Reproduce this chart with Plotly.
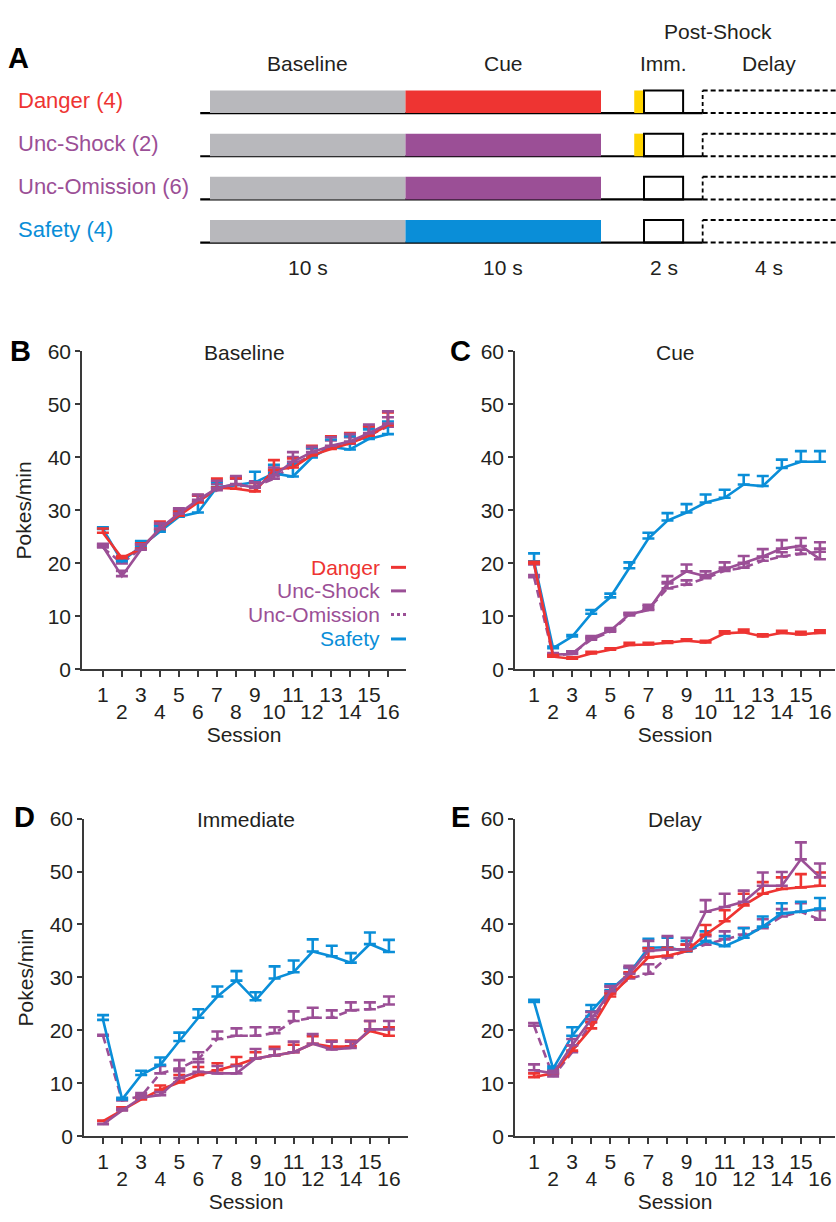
import plotly.graph_objects as go

W, H = 836, 1222
FONT = "Liberation Sans, Arial, Helvetica, sans-serif"
TXT = "#231F20"
AX = "#3A3A3A"
RED = "#EE3432"
PURPLE = "#9B4F96"
BLUE = "#0A8ED8"
GRAY = "#B8B8BC"
YELLOW = "#FFD400"

# ---------------- data ----------------
sessions = list(range(1, 17))
session_labels = [str(s) for s in sessions]
yticks = [0, 10, 20, 30, 40, 50, 60]

# Baseline (B)
danger_b = [25.8, 21.0, 22.8, 26.5, 29.0, 31.5, 34.3, 34.1, 33.6, 37.7, 38.1, 40.4, 41.6, 42.7, 44.1, 46.1]
danger_b_err = [0.8, 0.4, 1.0, 1.4, 0.8, 1.4, 1.7, 2.0, 1.6, 1.8, 1.7, 1.8, 2.4, 1.9, 1.8, 2.4]
shock_b = [23.2, 17.6, 22.6, 26.6, 29.4, 32.0, 34.2, 35.0, 34.3, 36.6, 39.2, 41.0, 42.2, 43.0, 44.6, 46.4]
shock_b_err = [0.5, 1.0, 1.0, 1.0, 1.0, 1.0, 1.4, 1.5, 1.0, 1.5, 1.8, 1.0, 1.6, 1.4, 1.6, 2.3]
omis_b = [23.0, 20.0, 22.8, 26.3, 29.3, 31.8, 33.8, 34.8, 34.5, 36.0, 38.6, 40.5, 42.0, 42.6, 44.2, 45.8]
omis_b_err = [0.5, 0.5, 0.8, 1.0, 0.8, 1.0, 1.2, 1.2, 1.0, 1.5, 1.5, 1.2, 1.2, 1.2, 1.5, 1.8]
safety_b = [26.5, 20.4, 23.2, 26.0, 28.8, 29.6, 34.4, 34.8, 35.3, 37.0, 36.4, 40.0, 42.0, 41.5, 43.5, 44.4]
safety_b_err = [0.3, 0.6, 1.0, 1.0, 1.0, 2.0, 1.0, 1.5, 2.0, 1.6, 2.3, 1.8, 1.4, 2.5, 1.8, 2.4]

# Cue (C)
danger_c = [20.0, 2.4, 2.0, 3.0, 3.7, 4.6, 4.7, 5.0, 5.4, 5.1, 6.8, 7.0, 6.2, 6.9, 6.6, 6.9]
danger_c_err = [0.3, 0.3, 0.3, 0.3, 0.3, 0.4, 0.3, 0.3, 0.3, 0.3, 0.4, 0.5, 0.4, 0.4, 0.5, 0.5]
shock_c = [19.8, 2.8, 2.9, 5.9, 7.3, 10.4, 11.2, 16.2, 18.5, 17.6, 18.9, 20.1, 21.3, 22.8, 23.3, 20.8]
shock_c_err = [0.3, 0.3, 0.5, 0.4, 0.5, 0.3, 1.0, 1.4, 1.3, 0.9, 1.3, 1.3, 1.4, 1.6, 1.5, 3.2]
omis_c = [17.4, 2.5, 3.0, 5.6, 7.1, 10.2, 11.4, 15.3, 16.0, 17.2, 18.6, 19.2, 20.5, 21.3, 21.8, 22.2]
omis_c_err = [0.4, 0.3, 0.4, 0.4, 0.4, 0.4, 0.5, 1.2, 0.8, 0.6, 0.6, 0.8, 0.7, 0.8, 0.8, 0.6]
safety_c = [20.4, 4.0, 6.2, 10.5, 13.6, 19.1, 24.7, 28.1, 29.6, 31.5, 32.4, 34.9, 34.6, 38.0, 39.2, 39.2]
safety_c_err = [1.5, 0.3, 0.3, 0.7, 0.7, 1.1, 1.1, 1.4, 1.6, 1.5, 1.5, 1.8, 1.9, 1.6, 2.0, 2.0]

# Immediate (D)
danger_d = [2.9, 5.0, 7.0, 8.8, 10.2, 11.6, 12.5, 13.5, 14.7, 15.3, 15.9, 17.5, 16.9, 17.0, 19.9, 19.0]
danger_d_err = [0.1, 0.5, 0.5, 0.8, 1.4, 1.5, 1.3, 1.5, 1.2, 1.6, 1.4, 1.4, 1.2, 1.1, 1.9, 1.6]
shock_d = [2.3, 4.9, 7.3, 7.8, 11.0, 12.2, 11.9, 11.9, 14.7, 15.3, 15.9, 17.5, 16.4, 16.7, 20.2, 20.2]
shock_d_err = [0.1, 0.3, 0.5, 0.6, 1.3, 1.8, 1.4, 1.4, 1.8, 1.2, 2.0, 1.8, 1.5, 1.2, 1.6, 1.6]
omis_d = [19.0, 6.8, 7.6, 11.9, 12.8, 14.6, 18.4, 19.0, 19.0, 19.5, 21.8, 22.4, 22.4, 23.8, 24.0, 24.9]
omis_d_err = [0.2, 0.3, 0.6, 1.4, 1.6, 1.3, 1.4, 1.4, 1.6, 1.1, 1.8, 1.9, 1.4, 1.5, 1.3, 1.5]
safety_d = [22.0, 7.0, 11.6, 13.5, 18.0, 22.4, 26.4, 29.4, 25.7, 29.8, 31.0, 34.9, 34.0, 32.8, 36.3, 34.8]
safety_d_err = [0.9, 0.3, 0.8, 1.4, 1.6, 1.6, 1.9, 1.8, 1.5, 2.3, 2.2, 2.3, 2.0, 1.8, 2.2, 2.3]

# Delay (E)
danger_e = [11.2, 11.9, 16.2, 20.4, 26.4, 30.1, 33.8, 34.1, 35.0, 38.1, 40.6, 43.6, 45.8, 46.7, 47.0, 47.3]
danger_e_err = [0.7, 0.4, 1.0, 1.2, 0.6, 0.9, 1.7, 1.5, 1.2, 1.8, 2.1, 2.2, 2.2, 2.2, 2.5, 2.5]
shock_e = [12.5, 11.9, 17.2, 22.1, 27.4, 30.7, 35.0, 35.3, 35.3, 42.4, 43.3, 44.3, 47.3, 47.3, 52.3, 48.9]
shock_e_err = [1.1, 0.5, 1.2, 1.4, 1.0, 1.2, 1.9, 2.5, 2.2, 2.2, 2.5, 2.1, 2.5, 2.6, 3.2, 2.6]
omis_e = [20.9, 11.3, 15.9, 21.5, 27.0, 29.8, 30.7, 33.8, 35.0, 36.2, 37.2, 38.1, 39.3, 41.5, 42.4, 40.9]
omis_e_err = [0.5, 0.5, 1.3, 1.2, 1.2, 2.4, 1.8, 1.5, 1.2, 1.6, 1.5, 1.3, 1.7, 1.4, 1.6, 1.8]
safety_e = [25.4, 12.8, 19.0, 23.6, 27.6, 30.8, 35.6, 35.7, 34.9, 36.9, 35.9, 37.5, 39.6, 42.1, 42.4, 43.0]
safety_e_err = [0.4, 0.4, 1.6, 1.2, 1.1, 1.0, 1.7, 1.8, 2.0, 1.8, 1.9, 1.8, 1.9, 1.9, 1.9, 2.0]

# Panel A schematic
group_names = ["Danger (4)", "Unc-Shock (2)", "Unc-Omission (6)", "Safety (4)"]
group_colors = [RED, PURPLE, PURPLE, BLUE]
group_shock = [True, True, False, False]
phase_names = ["Baseline", "Cue", "Imm.", "Delay"]
phase_durations = ["10 s", "10 s", "2 s", "4 s"]


def fx(px):
    return px / W


def fy(py):
    return 1 - py / H


fig = go.Figure()
shapes = []
annotations = []

# ---------------- Panel A ----------------
X0, PPS = 210, 19.55  # px of t=0, px per second


def sx(t):
    return fx(X0 + t * PPS)


row_tops = [80, 124, 168, 212]
ROW_H = 23
t_base = (0, 10)
t_cue = (10, 20)
t_shock = (21.7, 22.2)
t_imm = (22.2, 24.2)
t_delay = 25.2
for name, col, shk, top in zip(group_names, group_colors, group_shock, row_tops):
    bot = top + ROW_H
    shapes.append(dict(type="line", xref="paper", yref="paper", x0=sx(-0.5), x1=sx(t_delay),
                       y0=fy(bot), y1=fy(bot), line=dict(color="black", width=2.2)))
    shapes.append(dict(type="rect", xref="paper", yref="paper", x0=sx(t_base[0]), x1=sx(t_base[1]),
                       y0=fy(bot), y1=fy(top), fillcolor=GRAY, line=dict(width=0)))
    shapes.append(dict(type="rect", xref="paper", yref="paper", x0=sx(t_cue[0]), x1=sx(t_cue[1]),
                       y0=fy(bot), y1=fy(top), fillcolor=col, line=dict(width=0)))
    if shk:
        shapes.append(dict(type="rect", xref="paper", yref="paper", x0=sx(t_shock[0]), x1=sx(t_shock[1]),
                           y0=fy(bot), y1=fy(top), fillcolor=YELLOW, line=dict(width=0)))
    shapes.append(dict(type="rect", xref="paper", yref="paper", x0=sx(t_imm[0]), x1=sx(t_imm[1]),
                       y0=fy(bot), y1=fy(top), fillcolor="rgba(0,0,0,0)", line=dict(color="black", width=2)))
    for yy in (top, bot):
        shapes.append(dict(type="line", xref="paper", yref="paper", x0=sx(t_delay), x1=1.0,
                           y0=fy(yy), y1=fy(yy), line=dict(color="black", width=2, dash="5px,3px")))
    shapes.append(dict(type="line", xref="paper", yref="paper", x0=sx(t_delay), x1=sx(t_delay),
                       y0=fy(bot), y1=fy(top), line=dict(color="black", width=1.8, dash="4px,3px")))
    annotations.append(dict(text=name, xref="paper", yref="paper", x=fx(16), y=fy(top + 10),
                            xanchor="left", yanchor="middle", showarrow=False,
                            font=dict(family=FONT, size=22, color=col)))

phase_centers = [5, 15, 23.2, 28.6]
for nm, dur, c in zip(phase_names, phase_durations, phase_centers):
    annotations.append(dict(text=nm, xref="paper", yref="paper", x=sx(c), y=fy(52),
                            xanchor="center", yanchor="middle", showarrow=False,
                            font=dict(family=FONT, size=21, color=TXT)))
    annotations.append(dict(text=dur, xref="paper", yref="paper", x=sx(c), y=fy(260),
                            xanchor="center", yanchor="middle", showarrow=False,
                            font=dict(family=FONT, size=21, color=TXT)))
annotations.append(dict(text="Post-Shock", xref="paper", yref="paper", x=sx(26.0), y=fy(20),
                        xanchor="center", yanchor="middle", showarrow=False,
                        font=dict(family=FONT, size=21, color=TXT)))

# ---------------- Panels B-E ----------------
panels = [
    dict(letter="B", title="Baseline", xa="x", ya="y", xe="x5", xdom=(82, 406), ydom=(346, 670),
         xr=[-0.1, 16.95], ytitle="Pokes/min", letter_xy=(20, 346),
         series=[("Unc-Omission", omis_b, omis_b_err, PURPLE, "8px,5px"),
                 ("Safety", safety_b, safety_b_err, BLUE, "solid"),
                 ("Danger", danger_b, danger_b_err, RED, "solid"),
                 ("Unc-Shock", shock_b, shock_b_err, PURPLE, "solid")]),
    dict(letter="C", title="Cue", xa="x2", ya="y2", xe="x6", xdom=(515, 835), ydom=(346, 670),
         xr=[0.0, 16.79], ytitle="", letter_xy=(460, 346),
         series=[("Unc-Omission", omis_c, omis_c_err, PURPLE, "8px,5px"),
                 ("Safety", safety_c, safety_c_err, BLUE, "solid"),
                 ("Unc-Shock", shock_c, shock_c_err, PURPLE, "solid"),
                 ("Danger", danger_c, danger_c_err, RED, "solid")]),
    dict(letter="D", title="Immediate", xa="x3", ya="y3", xe="x7", xdom=(84, 408), ydom=(822, 1146),
         xr=[0.0, 17.0], ytitle="Pokes/min", letter_xy=(24, 820),
         series=[("Unc-Omission", omis_d, omis_d_err, PURPLE, "8px,5px"),
                 ("Safety", safety_d, safety_d_err, BLUE, "solid"),
                 ("Danger", danger_d, danger_d_err, RED, "solid"),
                 ("Unc-Shock", shock_d, shock_d_err, PURPLE, "solid")]),
    dict(letter="E", title="Delay", xa="x4", ya="y4", xe="x8", xdom=(515, 835), ydom=(822, 1146),
         xr=[0.0, 16.79], ytitle="", letter_xy=(460, 820),
         series=[("Unc-Omission", omis_e, omis_e_err, PURPLE, "8px,5px"),
                 ("Safety", safety_e, safety_e_err, BLUE, "solid"),
                 ("Danger", danger_e, danger_e_err, RED, "solid"),
                 ("Unc-Shock", shock_e, shock_e_err, PURPLE, "solid")]),
]

tickfont = dict(family=FONT, size=21, color=TXT)
layout_axes = {}
for p in panels:
    for name, mean, err, col, dash in p["series"]:
        fig.add_trace(go.Scatter(
            x=sessions, y=mean, mode="lines", name=name, showlegend=False,
            xaxis=p["xa"], yaxis=p["ya"], cliponaxis=False,
            line=dict(color=col, width=2.6, dash=dash),
            error_y=dict(type="data", symmetric=False, array=err, arrayminus=[0] * len(err),
                         color=col, thickness=2.6, width=6)))
    fig.add_trace(go.Scatter(x=[None], y=[None], xaxis=p["xe"], yaxis=p["ya"],
                             showlegend=False, hoverinfo="skip"))
    xk = "xaxis" + p["xa"][1:]
    yk = "yaxis" + p["ya"][1:]
    ek = "xaxis" + p["xe"][1:]
    xdom = [fx(p["xdom"][0]), fx(p["xdom"][1])]
    ydom = [fy(p["ydom"][1]), fy(p["ydom"][0])]
    layout_axes[xk] = dict(
        domain=xdom, range=p["xr"], anchor=p["ya"], tickmode="array", tickvals=sessions,
        ticktext=[l if s % 2 else "" for s, l in zip(sessions, session_labels)],
        ticks="outside", ticklen=6, tickwidth=1.5, tickcolor=AX, showline=True, linecolor=AX,
        linewidth=1.6, showgrid=False, zeroline=False, tickfont=tickfont, fixedrange=True)
    layout_axes[ek] = dict(
        overlaying=p["xa"], range=p["xr"], anchor=p["ya"], side="bottom", tickmode="array",
        tickvals=[s for s in sessions if s % 2 == 0],
        ticktext=[l for s, l in zip(sessions, session_labels) if s % 2 == 0],
        ticks="", showline=False, showgrid=False, zeroline=False, ticklabelstandoff=28,
        tickfont=tickfont, fixedrange=True,
        title=dict(text="Session", font=dict(family=FONT, size=21, color=TXT), standoff=2))
    layout_axes[yk] = dict(
        domain=ydom, range=[0, 60], anchor=p["xa"], tickmode="array", tickvals=yticks,
        ticks="outside", ticklen=5, tickwidth=1.5, tickcolor=AX, showline=True, linecolor=AX,
        linewidth=1.6, showgrid=False, zeroline=False, tickfont=tickfont, fixedrange=True,
        title=dict(text=p["ytitle"], font=dict(family=FONT, size=21, color=TXT), standoff=10))
    cx = (p["xdom"][0] + p["xdom"][1]) / 2
    annotations.append(dict(text=p["title"], xref="paper", yref="paper", x=fx(cx), y=fy(p["ydom"][0] + 1),
                            xanchor="center", yanchor="middle", showarrow=False,
                            font=dict(family=FONT, size=21, color=TXT)))
    annotations.append(dict(text="<b>%s</b>" % p["letter"], xref="paper", yref="paper",
                            x=fx(p["letter_xy"][0]), y=fy(p["letter_xy"][1]),
                            xanchor="center", yanchor="middle", showarrow=False,
                            font=dict(family=FONT, size=29, color="black")))
annotations.append(dict(text="<b>A</b>", xref="paper", yref="paper", x=fx(18), y=fy(47),
                        xanchor="center", yanchor="middle", showarrow=False,
                        font=dict(family=FONT, size=29, color="black")))

# legend (panel B)
legend_items = [("Danger", RED, "solid"), ("Unc-Shock", PURPLE, "solid"),
                ("Unc-Omission", PURPLE, "3px,3px"), ("Safety", BLUE, "solid")]
legend_y = [566, 590, 614, 639]
for (nm, col, dash), ly in zip(legend_items, legend_y):
    annotations.append(dict(text=nm, xref="paper", yref="paper", x=fx(382), y=fy(ly),
                            xanchor="right", yanchor="middle", showarrow=False,
                            font=dict(family=FONT, size=21, color=col)))
    shapes.append(dict(type="line", xref="paper", yref="paper", x0=fx(391), x1=fx(406),
                       y0=fy(ly), y1=fy(ly), line=dict(color=col, width=3, dash=dash)))

fig.update_layout(
    width=W, height=H, margin=dict(l=0, r=0, t=0, b=0),
    paper_bgcolor="white", plot_bgcolor="white",
    font=dict(family=FONT, color=TXT), showlegend=False,
    shapes=shapes, annotations=annotations, **layout_axes)

# remove the browser's default page margin so the figure sits at the window origin
post = ("document.documentElement.style.margin='0';document.body.style.margin='0';"
        "document.body.style.overflow='hidden';document.documentElement.style.overflow='hidden';"
        "var d=document.getElementById('{plot_id}');d.style.position='fixed';"
        "d.style.top='0px';d.style.left='0px';")
fig.write_html("out.html", config={"displayModeBar": False}, post_script=post)
